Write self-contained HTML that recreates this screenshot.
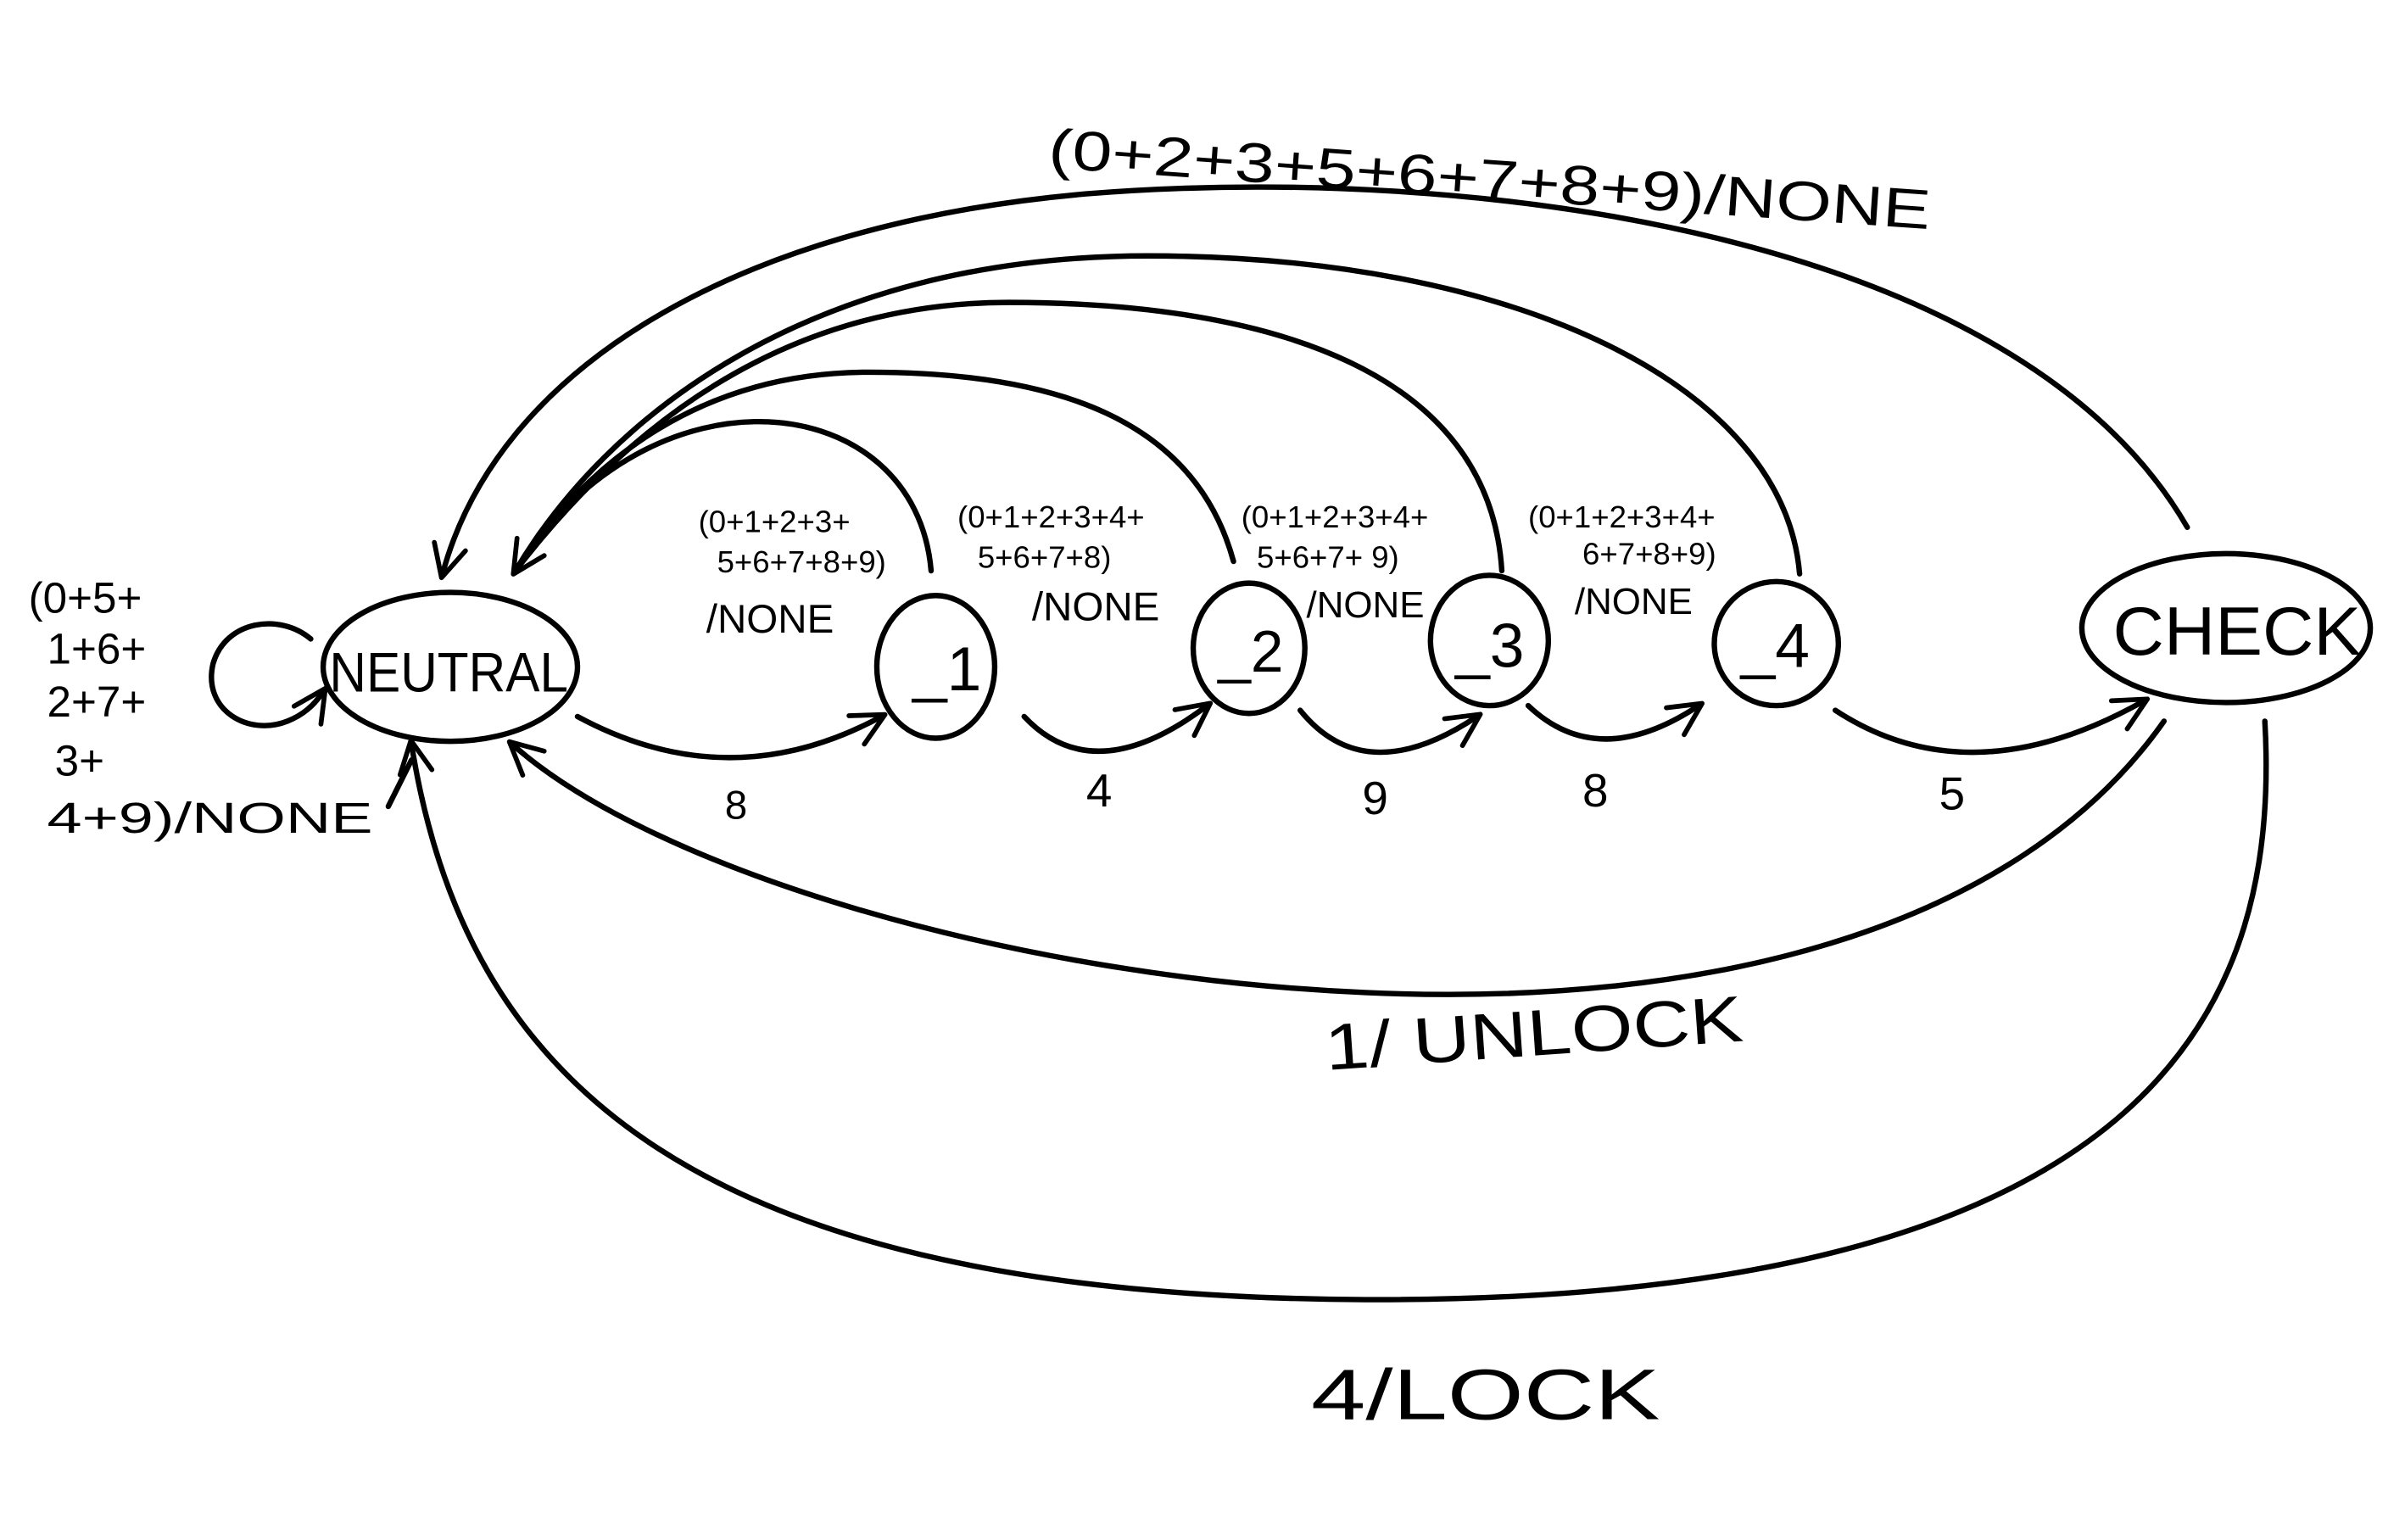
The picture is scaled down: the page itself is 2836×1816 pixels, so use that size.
<!DOCTYPE html>
<html><head><meta charset="utf-8"><style>
html,body{margin:0;padding:0;background:#fff;}
svg{display:block;}
text{font-family:"Liberation Sans",sans-serif;fill:#000;}
</style></head><body>
<svg width="2836" height="1816" viewBox="0 0 1550 993" xmlns="http://www.w3.org/2000/svg">
<defs>
<marker id="b" viewBox="0 0 20 20" refX="16" refY="10" markerWidth="26" markerHeight="26" orient="auto" markerUnits="userSpaceOnUse">
<path d="M2,2 L18,10 L2,18" fill="none" stroke="#000" stroke-width="2.4" stroke-linecap="round" stroke-linejoin="round"/>
</marker>
</defs>
<g fill="none" stroke="#000" stroke-width="3.5" stroke-linecap="round">
<ellipse cx="290" cy="430" rx="82" ry="48"/>
<ellipse cx="603" cy="430" rx="38" ry="46"/>
<ellipse cx="805" cy="418" rx="36" ry="42"/>
<ellipse cx="960" cy="413" rx="38" ry="42"/>
<ellipse cx="1145" cy="415" rx="40" ry="40"/>
<ellipse cx="1435" cy="405" rx="93" ry="48"/>
<!-- self loop -->
<path d="M200,412 C180,395 145,400 137,428 C130,458 160,475 185,465 C195,461 202,455 208,446" marker-end="url(#b)"/>
<!-- forward -->
<path d="M372,462 Q470,515 568,462" marker-end="url(#b)"/>
<path d="M660,462 Q705,510 778,455" marker-end="url(#b)"/>
<path d="M838,458 Q880,510 952,462" marker-end="url(#b)"/>
<path d="M985,455 Q1030,498 1095,455" marker-end="url(#b)"/>
<path d="M1183,458 Q1270,515 1382,452" marker-end="url(#b)"/>
<!-- back arcs -->
<path d="M600,368 C590,250 420,230 332,368" marker-end="url(#b)"/>
<path d="M795,362 C770,270 680,240 560,240 C440,240 370,310 332,368"/>
<path d="M968,368 C960,240 820,195 650,195 C500,195 400,280 332,368"/>
<path d="M1160,370 C1150,250 980,165 740,165 C520,165 390,270 332,368"/>
<path d="M1410,340 C1300,150 950,105 700,125 C470,145 320,240 285,370" marker-end="url(#b)"/>
<!-- bottom -->
<path d="M1395,465 C1300,600 1100,650 880,640 C650,630 420,560 330,480" marker-end="url(#b)"/>
<path d="M1460,465 C1470,640 1400,840 880,838 C450,836 300,700 265,480" marker-end="url(#b)"/>
<path d="M250,520 L265,490"/>
</g>
<g font-size="34">
<text x="212" y="446" font-size="36" textLength="154" lengthAdjust="spacingAndGlyphs">NEUTRAL</text>
<text x="588" y="445" font-size="40">_1</text>
<text x="785" y="433" font-size="38">_2</text>
<text x="938" y="430" font-size="40">_3</text>
<text x="1122" y="430" font-size="40">_4</text>
<text x="1362" y="422" font-size="44" textLength="160" lengthAdjust="spacingAndGlyphs">CHECK</text>
</g>
<g font-size="28">
<text x="18" y="395">(0+5+</text>
<text x="30" y="428">1+6+</text>
<text x="30" y="462">2+7+</text>
<text x="35" y="500">3+</text>
<text x="30" y="537" textLength="210" lengthAdjust="spacingAndGlyphs">4+9)/NONE</text>
</g>
<g font-size="20">
<text x="450" y="343">(0+1+2+3+</text>
<text x="462" y="369">5+6+7+8+9)</text>
<text x="455" y="408" font-size="26">/NONE</text>
<text x="617" y="340">(0+1+2+3+4+</text>
<text x="630" y="366">5+6+7+8)</text>
<text x="665" y="400" font-size="26">/NONE</text>
<text x="800" y="340">(0+1+2+3+4+</text>
<text x="810" y="366">5+6+7+   9)</text>
<text x="842" y="398" font-size="24">/NONE</text>
<text x="985" y="340">(0+1+2+3+4+</text>
<text x="1020" y="364">6+7+8+9)</text>
<text x="1015" y="396" font-size="24">/NONE</text>
</g>
<g font-size="30">
<text x="467" y="528" font-size="26">8</text>
<text x="700" y="520">4</text>
<text x="878" y="525">9</text>
<text x="1020" y="520">8</text>
<text x="1250" y="522">5</text>
</g>
<text x="675" y="108" font-size="36" transform="rotate(4 675 108)" textLength="570" lengthAdjust="spacingAndGlyphs">(0+2+3+5+6+7+8+9)/NONE</text>
<text x="855" y="690" font-size="42" transform="rotate(-4 855 690)" textLength="270" lengthAdjust="spacingAndGlyphs">1/ UNLOCK</text>
<text x="845" y="915" font-size="46" textLength="225" lengthAdjust="spacingAndGlyphs">4/LOCK</text>
</svg>
</body></html>
